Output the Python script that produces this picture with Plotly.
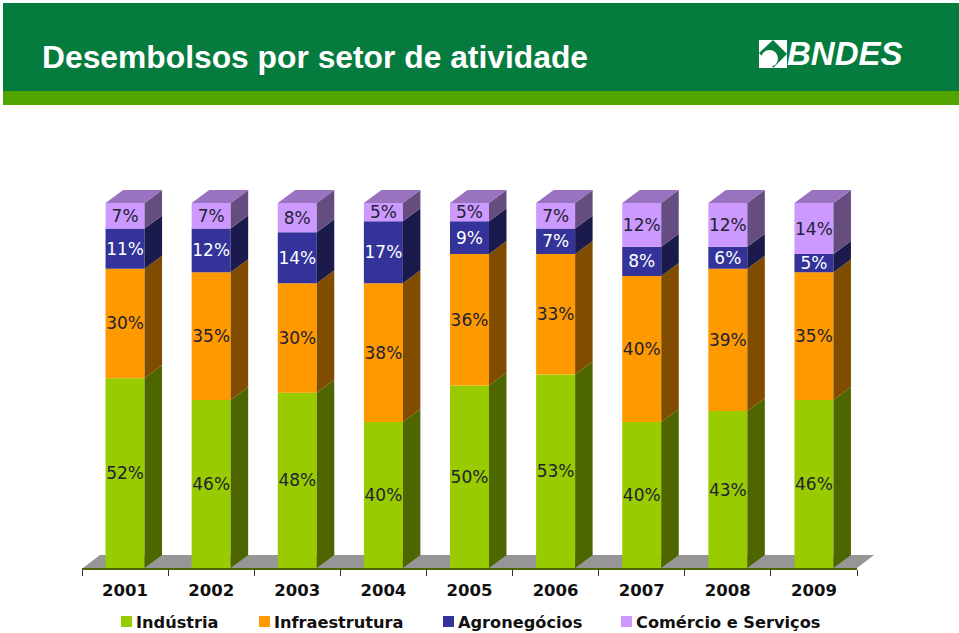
import plotly.graph_objects as go

years = ["2001", "2002", "2003", "2004", "2005", "2006", "2007", "2008", "2009"]
industria = [52, 46, 48, 40, 50, 53, 40, 43, 46]
infraestrutura = [30, 35, 30, 38, 36, 33, 40, 39, 35]
agronegocios = [11, 12, 14, 17, 9, 7, 8, 6, 5]
comercio = [7, 7, 8, 5, 5, 7, 12, 12, 14]

W, H = 959, 633
L, R, T, B = 82, 857, 110, 568
PCT = 3.65
BAR = 0.453
DX = 17.5 / 86.11
DY = 13 / PCT
LEGEND_X = [121, 259, 443, 621]

series = [
    ("Indústria", industria, "#99CC00", "#4D6600", "#222233"),
    ("Infraestrutura", infraestrutura, "#FF9900", "#804D00", "#222233"),
    ("Agronegócios", agronegocios, "#333399", "#1A1A4D", "#FFFFFF"),
    ("Comércio e Serviços", comercio, "#CC99FF", "#664D80", "#222233"),
]


def px(x):
    return (x - L) / (R - L)


def py(y):
    return (B - y) / (B - T)


fig = go.Figure()
bottoms = [0] * len(years)
for name, vals, col, side, tc in series:
    fig.add_bar(
        x=years, y=vals, base=bottoms, name=name, width=BAR, showlegend=False,
        marker=dict(color=col, line=dict(width=0)),
        text=[f"{v}%" for v in vals], textposition="inside", textangle=0,
        insidetextanchor="middle", constraintext="none",
        insidetextfont=dict(family="DejaVu Sans", size=17, color=tc),
        hoverinfo="skip",
    )
    for i, (b, v) in enumerate(zip(bottoms, vals)):
        r = i + BAR / 2
        fig.add_scatter(
            x=[r, r + DX, r + DX, r, r], y=[b, b + DY, b + v + DY, b + v, b],
            xaxis="x2", mode="lines", fill="toself", fillcolor=side, line=dict(width=0),
            showlegend=False, hoverinfo="skip",
        )
    bottoms = [b + v for b, v in zip(bottoms, vals)]

for i, t in enumerate(bottoms):
    l, r = i - BAR / 2, i + BAR / 2
    fig.add_scatter(
        x=[l, l + DX, r + DX, r, l], y=[t, t + DY, t + DY, t, t],
        xaxis="x2", mode="lines", fill="toself", fillcolor="#9973BF", line=dict(width=0),
        showlegend=False, hoverinfo="skip",
    )

shapes = [
    dict(type="rect", xref="paper", yref="paper", x0=px(3), x1=px(959), y0=py(3), y1=py(91),
         fillcolor="#067B3E", line_width=0, layer="below"),
    dict(type="rect", xref="paper", yref="paper", x0=px(3), x1=px(959), y0=py(91), y1=py(105),
         fillcolor="#52A500", line_width=0, layer="below"),
    dict(type="path", xref="paper", yref="paper", layer="below", fillcolor="#969696", line_width=0,
         path=f"M{px(83)},{py(568)} L{px(100)},{py(555)} L{px(874)},{py(555)} L{px(857)},{py(568)} Z"),
    dict(type="rect", xref="paper", yref="paper", x0=px(759), x1=px(787), y0=py(40), y1=py(68),
         fillcolor="#FFFFFF", line_width=0, layer="above"),
    dict(type="path", xref="paper", yref="paper", layer="above", fillcolor="#067B3E", line_width=0,
         path=f"M{px(759)},{py(53)} L{px(773)},{py(40)} L{px(787)},{py(54)} L{px(773)},{py(68)} Z"),
    dict(type="circle", xref="paper", yref="paper", layer="above", fillcolor="#FFFFFF", line_width=0,
         x0=px(761), x1=px(778), y0=py(50), y1=py(67)),
    dict(type="path", xref="paper", yref="paper", layer="above", fillcolor="#FFFFFF", line_width=0,
         path=f"M{px(759)},{py(56)} L{px(766)},{py(56)} L{px(773)},{py(68)} L{px(759)},{py(68)} Z"),
]

annotations = [
    dict(text="<b><i>BNDES</i></b>", xref="paper", yref="paper", x=px(785), y=py(54),
         xanchor="left", yanchor="middle", showarrow=False,
         font=dict(family="Liberation Sans", size=33, color="#FFFFFF")),
]

for (name, vals, col, side, tc), lx in zip(series, LEGEND_X):
    shapes.append(dict(type="rect", xref="paper", yref="paper", x0=px(lx), x1=px(lx + 11),
                       y0=py(616), y1=py(627), fillcolor=col, line_width=0))
    annotations.append(dict(text=name, xref="paper", yref="paper", x=px(lx + 13), y=py(622),
                            xanchor="left", yanchor="middle", showarrow=False,
                            font=dict(family="DejaVu Sans", size=16.2, color="#111111", weight="bold")))

fig.update_layout(
    width=W, height=H, autosize=False, showlegend=False,
    margin=dict(l=L, r=W - R, t=T, b=H - B, pad=0, autoexpand=False),
    paper_bgcolor="#FFFFFF", plot_bgcolor="rgba(0,0,0,0)",
    barmode="overlay", shapes=shapes, annotations=annotations,
    title=dict(text="<b>Desembolsos por setor de atividade</b>", x=42 / W, xanchor="left",
               y=1 - 57 / H, yanchor="middle",
               font=dict(family="Liberation Sans", size=31.8, color="#FFFFFF")),
    xaxis=dict(type="category", categoryorder="array", categoryarray=years,
               range=[-0.5, 8.5], tickson="boundaries", ticks="outside", ticklen=6,
               tickcolor="#333333", showline=True, linecolor="#4D6600", linewidth=1.5,
               showgrid=False, zeroline=False, ticklabelstandoff=6,
               tickfont=dict(family="DejaVu Sans", size=16.5, color="#111111", weight="bold")),
    xaxis2=dict(overlaying="x", range=[-0.5, 8.5], visible=False, showgrid=False, zeroline=False),
    yaxis=dict(range=[0, (B - T) / PCT], visible=False, showgrid=False, zeroline=False),
)
fig.write_html("out.html", config={"displayModeBar": False},
               post_script="document.body.style.margin='0';")
